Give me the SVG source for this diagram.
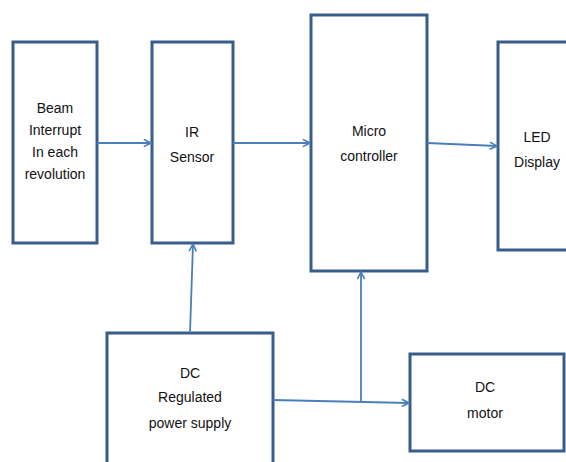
<svg xmlns="http://www.w3.org/2000/svg" width="566" height="462" viewBox="0 0 566 462">
<style>
.box{fill:#fff;stroke:#385D8A;stroke-width:3}
.t{font-family:"Liberation Sans",Arial,sans-serif;font-size:14px;fill:#111;text-anchor:middle}
.c{fill:none;stroke:#4A7EBB;stroke-width:1.8}
</style>
<defs>
<marker id="ah" viewBox="0 0 10 10" refX="9" refY="5" markerWidth="9" markerHeight="9" markerUnits="userSpaceOnUse" orient="auto">
<path d="M1,1 L9,5 L1,9" fill="none" stroke="#4A7EBB" stroke-width="1.8"/>
</marker>
</defs>
<rect width="566" height="462" fill="#fff"/>
<g id="beam"><rect class="box" x="13" y="42" width="84" height="201"/>
<text class="t" x="55" y="113">Beam</text><text class="t" x="55" y="135">Interrupt</text><text class="t" x="55" y="157">In each</text><text class="t" x="55" y="179">revolution</text></g>
<g id="ir"><rect class="box" x="152" y="42" width="81" height="201"/>
<text class="t" x="192" y="137">IR</text><text class="t" x="192" y="162">Sensor</text></g>
<g id="mc"><rect class="box" x="311" y="15" width="116" height="256"/>
<text class="t" x="369" y="136">Micro</text><text class="t" x="369" y="161">controller</text></g>
<g id="led"><rect class="box" x="498" y="42" width="80" height="208"/>
<text class="t" x="537" y="142">LED</text><text class="t" x="537" y="167">Display</text></g>
<g id="ps"><rect class="box" x="107" y="333" width="166" height="140"/>
<text class="t" x="190" y="378">DC</text><text class="t" x="190" y="402">Regulated</text><text class="t" x="190" y="428">power supply</text></g>
<g id="motor"><rect class="box" x="410" y="354" width="154" height="97"/>
<text class="t" x="485" y="392">DC</text><text class="t" x="485" y="418">motor</text></g>
<g id="connectors">
<line class="c" x1="97" y1="143" x2="151" y2="143" marker-end="url(#ah)"/>
<line class="c" x1="233" y1="143" x2="310" y2="143" marker-end="url(#ah)"/>
<line class="c" x1="427" y1="143" x2="497" y2="146" marker-end="url(#ah)"/>
<line class="c" x1="190" y1="333" x2="193" y2="244" marker-end="url(#ah)"/>
<line class="c" x1="273" y1="400" x2="409" y2="403" marker-end="url(#ah)"/>
<line class="c" x1="361" y1="402" x2="361" y2="272" marker-end="url(#ah)"/>
</g>
</svg>
